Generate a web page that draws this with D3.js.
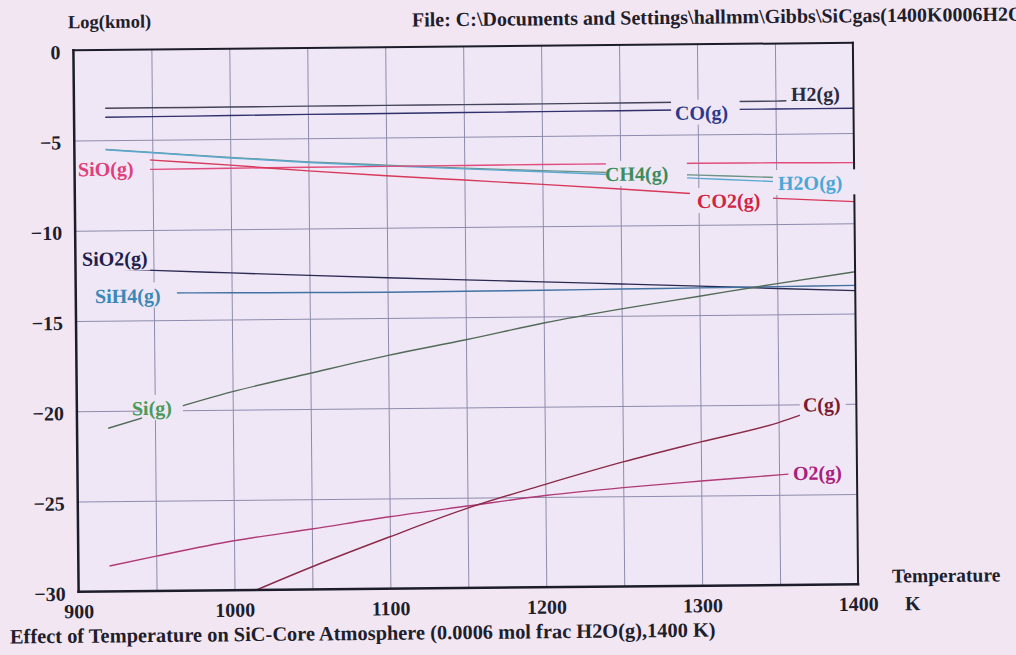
<!DOCTYPE html>
<html>
<head>
<meta charset="utf-8">
<script src="https://cdn.jsdelivr.net/npm/d3@7"></script>
<style>
  html, body { margin: 0; padding: 0; background: #f3e6f3; overflow: hidden; }
  svg { display: block; }
  text { font-family: "Liberation Serif", "Times New Roman", serif; font-weight: bold; }
</style>
</head>
<body>
<svg id="chart" width="1016" height="655"></svg>
<script>
// ---- data: log10 of kmol for each gas species versus temperature (K) ----
const temps    = [920, 950, 1000, 1050, 1100, 1150, 1200, 1250, 1300, 1350, 1400];
const h2Temps  = [920, 950, 1000, 1050, 1100, 1150, 1200, 1250, 1300, 1350, 1357];
const o2Temps  = [920, 950, 1000, 1050, 1100, 1150, 1200, 1250, 1300, 1350, 1356];
const cTemps   = [1000, 1050, 1100, 1150, 1200, 1250, 1300, 1350, 1364];

const h2   = [-3.23, -3.23, -3.23, -3.22, -3.22, -3.22, -3.22, -3.21, -3.20, -3.19, -3.18];
const co   = [-3.73, -3.72, -3.70, -3.68, -3.67, -3.66, -3.65, -3.64, -3.63, -3.63, -3.63];
const ch4  = [-5.51, -5.70, -6.02, -6.31, -6.53, -6.74, -6.92, -7.08, -7.25, -7.42, -7.58];
const h2o  = [-5.53, -5.72, -6.05, -6.34, -6.57, -6.78, -6.98, -7.20, -7.43, -7.65, -7.82];
const sio  = [-6.64, -6.64, -6.62, -6.61, -6.60, -6.59, -6.58, -6.58, -6.59, -6.61, -6.64];
const co2  = [-5.93, -6.13, -6.45, -6.81, -7.12, -7.40, -7.68, -7.98, -8.30, -8.58, -8.80];
const sio2 = [-12.12, -12.24, -12.42, -12.60, -12.77, -12.93, -13.08, -13.24, -13.40, -13.57, -13.73];
const sih4 = [-13.47, -13.49, -13.52, -13.55, -13.57, -13.56, -13.55, -13.52, -13.50, -13.47, -13.44];
const si   = [-20.96, -20.20, -19.00, -18.02, -17.07, -16.25, -15.36, -14.62, -13.96, -13.30, -12.69];
const o2   = [-28.59, -28.07, -27.26, -26.65, -26.01, -25.46, -24.92, -24.52, -24.20, -23.90, -23.86];
const c    = [-30.50, -28.74, -27.12, -25.58, -24.30, -23.10, -22.03, -21.00, -20.60];

const xTicks = [900, 1000, 1100, 1200, 1300, 1400];
const xGrid  = [950, 1000, 1050, 1100, 1150, 1200, 1250, 1300, 1350];
const yTicks = [0, -5, -10, -15, -20, -25, -30];
const yGrid  = [-5, -10, -15, -20, -25];

// species labels: text anchor (T, value) and the backing box span in T
const labelText  = ["H2(g)", "CO(g)", "CH4(g)", "H2O(g)", "CO2(g)", "SiO(g)", "SiO2(g)", "SiH4(g)", "Si(g)", "C(g)", "O2(g)"];
const labelT     = [1360, 1285.4, 1240.2, 1351.1, 1299, 902.2, 904.2, 912.3, 935.3, 1365.7, 1358.9];
const labelV     = [-2.92, -3.90, -7.25, -7.84, -8.79, -6.70, -11.67, -13.74, -19.97, -20.13, -23.91];
const labelBoxT0 = [1357.5, 1283, 1240.8, 1347.9, 1294.6, 901.5, 902.2, 909.1, 941.8, 1363.7, 1356.4];
const labelBoxT1 = [1396, 1327, 1292.8, 1404.8, 1347.8, 948.4, 947.8, 964.9, 968, 1393.2, 1392.9];

// ---- series table ----
const series = [
  { name: "H2(g)",   t: h2Temps, v: h2,   stroke: "#44445a" },
  { name: "CO(g)",   t: temps,   v: co,   stroke: "#30306c" },
  { name: "CH4(g)",  t: temps,   v: ch4,  stroke: "#6c9486" },
  { name: "H2O(g)",  t: temps,   v: h2o,  stroke: "#5aa8d0" },
  { name: "SiO(g)",  t: temps,   v: sio,  stroke: "#e04c7c" },
  { name: "CO2(g)",  t: temps,   v: co2,  stroke: "#d8385a" },
  { name: "SiO2(g)", t: temps,   v: sio2, stroke: "#2a2a52" },
  { name: "SiH4(g)", t: temps,   v: sih4, stroke: "#4272a2" },
  { name: "Si(g)",   t: temps,   v: si,   stroke: "#526a58" },
  { name: "O2(g)",   t: o2Temps, v: o2,   stroke: "#b03a78" },
  { name: "C(g)",    t: cTemps,  v: c,    stroke: "#8a2a48" }
];
const labelColors = {
  "H2(g)": "#2a2a3c", "CO(g)": "#2d3a8c", "CH4(g)": "#3c8c5c", "H2O(g)": "#4aa8d8",
  "CO2(g)": "#d02444", "SiO(g)": "#e0407a", "SiO2(g)": "#1e1e4a", "SiH4(g)": "#3a88b8",
  "Si(g)": "#4a9a58", "C(g)": "#7a1a30", "O2(g)": "#a8207a"
};

// ---- layout ----
const W = 1016, H = 655;
const plot = { left: 76, right: 855.5, top: 46.5, bottom: 588 };
const pageBg = "#f3e6f3", plotBg = "#efe7f5";
const inkColor = "#1e1e2c";
const fontSize = 20;

const x = d3.scaleLinear().domain([900, 1400]).range([plot.left, plot.right]);
const y = d3.scaleLinear().domain([-30, 0]).range([plot.bottom, plot.top]);

const svg = d3.select("#chart");
svg.append("rect").attr("width", W).attr("height", H).attr("fill", pageBg);

// the printed sheet sits very slightly tilted
const g = svg.append("g").attr("transform", "rotate(-0.55 465 318)");

g.append("rect")
  .attr("x", plot.left).attr("y", plot.top)
  .attr("width", plot.right - plot.left).attr("height", plot.bottom - plot.top)
  .attr("fill", plotBg);

g.append("defs").append("clipPath").attr("id", "plot-clip")
  .append("rect")
  .attr("x", plot.left).attr("y", plot.top)
  .attr("width", plot.right - plot.left).attr("height", plot.bottom - plot.top);

// grid
const gridX = g.append("g")
  .attr("transform", `translate(0,${plot.bottom})`)
  .call(d3.axisBottom(x).tickValues(xGrid).tickSize(-(plot.bottom - plot.top)).tickFormat(""));
const gridY = g.append("g")
  .attr("transform", `translate(${plot.left},0)`)
  .call(d3.axisLeft(y).tickValues(yGrid).tickSize(-(plot.right - plot.left)).tickFormat(""));
[gridX, gridY].forEach(s => {
  s.select(".domain").remove();
  s.selectAll(".tick line").attr("stroke", "#8e8cae").attr("stroke-width", 1);
});

// tick labels
const axX = g.append("g")
  .attr("transform", `translate(0,${plot.bottom})`)
  .call(d3.axisBottom(x).tickValues(xTicks).tickSize(0).tickFormat(d3.format("d")));
axX.select(".domain").remove();
axX.selectAll("text")
  .attr("y", 26.5).attr("dy", null)
  .attr("font-size", fontSize).attr("font-family", null).attr("fill", inkColor);

const axY = g.append("g")
  .attr("transform", `translate(${plot.left},0)`)
  .call(d3.axisLeft(y).tickValues(yTicks).tickSize(0).tickPadding(13).tickFormat(d3.format("d")));
axY.select(".domain").remove();
axY.selectAll("text")
  .attr("dy", "0.42em")
  .attr("font-size", fontSize).attr("font-family", null).attr("fill", inkColor);

// species curves
const line = d3.line()
  .x(d => x(d[0]))
  .y(d => y(d[1]))
  .curve(d3.curveMonotoneX);

g.append("g").attr("clip-path", "url(#plot-clip)")
  .selectAll("path")
  .data(series)
  .join("path")
  .attr("d", s => line(s.t.map((t, i) => [t, s.v[i]])))
  .attr("fill", "none")
  .attr("stroke", s => s.stroke)
  .attr("stroke-width", 1.4)
  .attr("stroke-linejoin", "round");

// frame
const frame = g.append("g").attr("stroke", "#1c1c2a").attr("stroke-linecap", "square");
frame.append("line").attr("x1", plot.left).attr("x2", plot.right).attr("y1", plot.top).attr("y2", plot.top).attr("stroke-width", 2);
frame.append("line").attr("x1", plot.right).attr("x2", plot.right).attr("y1", plot.top).attr("y2", plot.bottom).attr("stroke-width", 2);
frame.append("line").attr("x1", plot.left).attr("x2", plot.left).attr("y1", plot.top).attr("y2", plot.bottom).attr("stroke-width", 2.5);
frame.append("line").attr("x1", plot.left).attr("x2", plot.right).attr("y1", plot.bottom).attr("y2", plot.bottom).attr("stroke-width", 2.5);

// species labels on opaque boxes
const labels = labelText.map((text, i) => ({
  text, t: labelT[i], v: labelV[i], t0: labelBoxT0[i], t1: labelBoxT1[i]
}));
const lab = g.append("g").selectAll("g").data(labels).join("g");
lab.append("rect")
  .attr("x", d => x(d.t0)).attr("width", d => x(d.t1) - x(d.t0))
  .attr("y", d => y(d.v) - 15).attr("height", 25)
  .attr("fill", plotBg);
lab.append("text")
  .attr("x", d => x(d.t)).attr("y", d => y(d.v) + 5)
  .attr("font-size", fontSize)
  .attr("fill", d => labelColors[d.text])
  .text(d => d.text);

// titles
g.append("text").attr("x", 70.8).attr("y", 24.5).attr("font-size", 18.5).attr("fill", inkColor)
  .text("Log(kmol)");
g.append("text").attr("x", 414.8).attr("y", 26).attr("font-size", fontSize).attr("fill", inkColor)
  .text("File: C:\\Documents and Settings\\hallmm\\Gibbs\\SiCgas(1400K0006H2O)");
g.append("text").attr("x", 889.5).attr("y", 586.5).attr("font-size", 19.5).attr("fill", inkColor)
  .text("Temperature");
g.append("text").attr("x", 902.3).attr("y", 614.5).attr("font-size", fontSize).attr("fill", inkColor)
  .text("K");
g.append("text").attr("x", 6.9).attr("y", 639).attr("font-size", 20.4).attr("fill", inkColor)
  .text("Effect of Temperature on SiC-Core Atmosphere (0.0006 mol frac H2O(g),1400 K)");
</script>
</body>
</html>
